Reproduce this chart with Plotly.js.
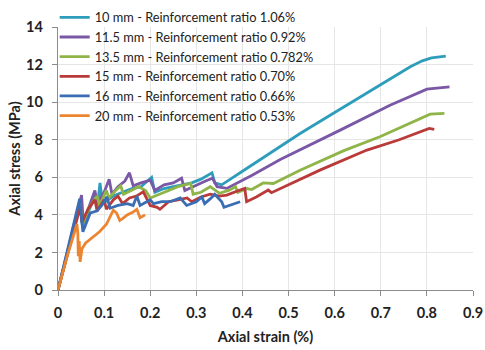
<!DOCTYPE html>
<html>
<head>
<meta charset="utf-8">
<script src="https://cdn.plot.ly/plotly-3.0.1.min.js"></script>
<style>html,body{margin:0;padding:0;background:#fff;}#chart{width:485px;height:350px;}</style>
</head>
<body>
<div id="chart"></div>
<script>
// Series names
const seriesNames = [
  "10 mm - Reinforcement ratio 1.06%",
  "11.5 mm - Reinforcement ratio 0.92%",
  "13.5 mm - Reinforcement ratio 0.782%",
  "15 mm - Reinforcement ratio 0.70%",
  "16 mm - Reinforcement ratio 0.66%",
  "20 mm - Reinforcement ratio 0.53%"
];

// 10 mm
const strain10 = [0,0.048,0.053,0.07,0.08,0.085,0.091,0.097,0.12,0.14,0.16,0.18,0.203,0.21,0.23,0.25,0.27,0.29,0.31,0.334,0.34,0.355,0.4,0.45,0.5,0.525,0.6,0.65,0.7,0.764,0.79,0.81,0.841];
const stress10 = [0,4.6,3.4,4.4,5.0,4.3,5.7,4.6,5.0,5.2,5.4,5.5,6.0,5.2,5.4,5.5,5.6,5.7,5.9,6.24,5.7,5.6,6.32,7.12,7.92,8.33,9.45,10.2,10.92,11.88,12.2,12.36,12.45];

// 11.5 mm
const strain115 = [0,0.051,0.055,0.07,0.08,0.085,0.1,0.111,0.117,0.13,0.145,0.155,0.163,0.18,0.2,0.21,0.23,0.25,0.268,0.275,0.3,0.32,0.335,0.345,0.366,0.42,0.482,0.525,0.612,0.72,0.8,0.849];
const stress115 = [0,5.05,3.6,4.6,5.3,4.6,5.2,5.9,5.1,5.5,5.8,6.24,5.55,5.7,5.85,5.3,5.6,5.7,5.95,5.3,5.6,5.8,5.95,5.5,5.41,6.1,6.95,7.48,8.51,9.84,10.69,10.81];

// 13.5 mm
const strain135 = [0,0.048,0.053,0.07,0.085,0.09,0.105,0.11,0.125,0.136,0.142,0.16,0.175,0.19,0.2,0.22,0.24,0.26,0.288,0.293,0.31,0.33,0.35,0.37,0.385,0.39,0.41,0.42,0.445,0.467,0.525,0.62,0.698,0.807,0.838];
const stress135 = [0,4.6,3.5,4.5,5.0,4.5,5.3,4.9,5.3,5.55,5.1,5.3,5.5,5.3,4.9,5.1,5.3,5.5,5.67,5.1,5.2,5.5,5.15,5.3,5.5,5.2,5.4,5.35,5.7,5.67,6.38,7.42,8.16,9.36,9.4];

// 15 mm
const strain15 = [0,0.048,0.052,0.065,0.08,0.085,0.1,0.105,0.12,0.13,0.14,0.155,0.17,0.185,0.2,0.215,0.221,0.24,0.26,0.28,0.29,0.31,0.33,0.35,0.366,0.38,0.395,0.405,0.409,0.43,0.456,0.463,0.568,0.67,0.74,0.805,0.816];
const stress15 = [0,4.4,3.6,4.3,4.8,4.2,4.8,4.3,4.8,5.0,4.6,4.9,5.0,5.23,4.5,4.4,4.3,4.7,4.8,4.9,4.7,4.95,5.1,5.0,5.05,5.2,5.32,5.41,4.7,4.95,5.32,5.18,6.38,7.45,8.0,8.6,8.55];

// 16 mm
const strain16 = [0,0.047,0.054,0.07,0.084,0.095,0.106,0.113,0.13,0.15,0.163,0.171,0.178,0.2,0.207,0.225,0.243,0.265,0.279,0.3,0.312,0.318,0.33,0.34,0.355,0.36,0.395];
const stress16 = [0,4.85,3.1,4.1,4.2,4.5,4.96,4.35,4.5,4.6,4.5,5.0,4.5,4.8,4.6,4.7,4.7,4.9,4.5,4.7,4.95,4.6,4.85,5.1,4.7,4.4,4.7];

// 20 mm
const strain20 = [0,0.02,0.041,0.043,0.044,0.046,0.048,0.052,0.06,0.075,0.09,0.105,0.115,0.12,0.127,0.134,0.14,0.15,0.163,0.171,0.178,0.185,0.189];
const stress20 = [0,1.8,3.5,3.0,1.8,2.6,1.5,2.2,2.5,2.8,3.1,3.5,4.0,4.25,4.1,3.7,3.8,4.0,4.15,4.3,3.85,3.95,4.0];

const xs = [strain10, strain115, strain135, strain15, strain16, strain20];
const ys = [stress10, stress115, stress135, stress15, stress16, stress20];
const colors = ["#2E9DBB", "#7A58A6", "#8FB448", "#B93A38", "#3A6DB4", "#EC8530"];

const traces = xs.map((x, i) => ({
  x: x, y: ys[i], name: seriesNames[i], type: "scatter", mode: "lines",
  line: {color: colors[i], width: 2.8}
}));

const axisFont = {family: "Lato, 'Open Sans', sans-serif", size: 14.5, color: "#222", weight: "bold"};

const layout = {
  width: 485, height: 350,
  margin: {l: 58, r: 12, t: 27, b: 60, autoexpand: false},
  paper_bgcolor: "#fff", plot_bgcolor: "#fff",
  font: {family: "Lato, 'Open Sans', sans-serif", size: 13, color: "#222"},
  showlegend: true,
  legend: {
    x: -0.008, y: 1.093, xanchor: "left", yanchor: "top",
    bgcolor: "rgba(255,255,255,0)",
    font: {family: "Lato, 'Open Sans', sans-serif", size: 12.8, color: "#222"},
    tracegroupgap: 0
  },
  xaxis: {
    range: [0, 0.9], dtick: 0.1, tick0: 0,
    showline: true, linecolor: "#8c8c8c", linewidth: 1.3,
    ticks: "outside", ticklen: 5, tickcolor: "#8c8c8c",
    showgrid: true, gridcolor: "#e6e6e6", gridwidth: 1,
    zeroline: false,
    tickfont: axisFont, ticklabelstandoff: 4,
    title: {text: "Axial strain (%)", font: axisFont, standoff: 12}
  },
  yaxis: {
    range: [0, 14], dtick: 2, tick0: 0,
    showline: true, linecolor: "#8c8c8c", linewidth: 1.3,
    ticks: "outside", ticklen: 5, tickcolor: "#8c8c8c",
    showgrid: true, gridcolor: "#e6e6e6", gridwidth: 1,
    zeroline: false,
    tickfont: axisFont, ticklabelstandoff: 6,
    title: {text: "Axial stress (MPa)", font: axisFont, standoff: 2}
  }
};

Plotly.newPlot("chart", traces, layout, {displayModeBar: false, staticPlot: true});
</script>
</body>
</html>
